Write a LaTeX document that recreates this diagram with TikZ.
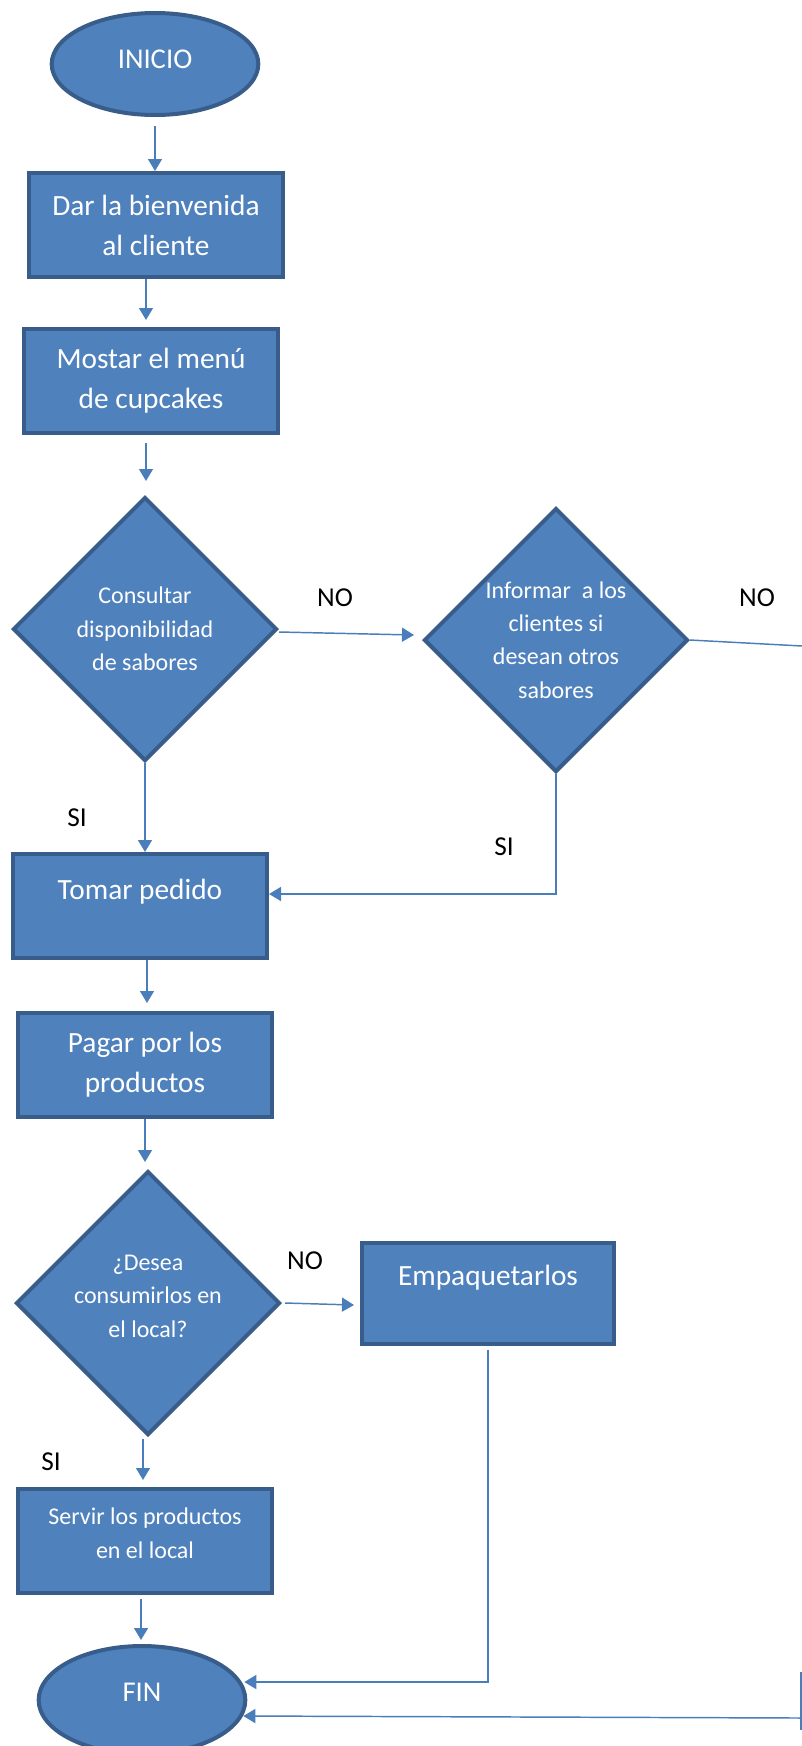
\documentclass[tikz,border=0pt]{standalone}
\usepackage{fontspec}
\setmainfont{Carlito}
\usepackage{xcolor}
\definecolor{boxfill}{HTML}{4F81BD}
\definecolor{boxline}{HTML}{385D8A}
\definecolor{flowline}{HTML}{4A7EBB}
\usepackage{tikz}
\usetikzlibrary{arrows.meta,shapes.geometric,calc}

\begin{document}
\begin{tikzpicture}[x=0.75pt,y=-0.75pt,>={Triangle[length=9pt,width=10.5pt]},
    base/.style={fill=boxfill,draw=boxline,line width=3pt,text=white,inner sep=0pt,
                 font=\fontsize{22}{30}\selectfont,align=center},
    proc/.style={base,rectangle,minimum width=190.5pt,minimum height=78pt},
    term/.style={base,ellipse,minimum width=155pt,minimum height=76.5pt,
                 font=\fontsize{21.5}{30}\selectfont},
    decide/.style={base,diamond,minimum width=198pt,minimum height=198pt,
                   font=\fontsize{18}{25}\selectfont},
    flow/.style={->,flowline,line width=1.1pt},
    tag/.style={font=\fontsize{20.5}{24}\selectfont,text=black}]
    \useasboundingbox (0,0) rectangle (802,1746);
    \node[term,text height=13.8pt,text depth=7.8pt] (inicio) at (155,64) {INICIO};
    \node[proc] (bienv) at (156,225) {Dar la bienvenida\\al cliente};
    \node[proc] (menu) at (151,381) {Mostar el menú\\de cupcakes};
    \node[decide] (consulta) at (145,629) {Consultar\\disponibilidad\\de sabores};
    \node[decide] (informar) at (556,640) {Informar~ a los\\clientes si\\desean otros\\sabores};
    \node[proc,text height=15pt,text depth=25pt] (tomar) at (140,906) {Tomar pedido};
    \node[proc] (pagar) at (145,1065) {Pagar por los\\productos};
    \node[decide,text depth=10.5pt] (desea) at (148,1303) {¿Desea\\consumirlos en\\el local?};
    \node[proc,minimum width=189pt,minimum height=75.75pt,text height=15pt,text depth=26.5pt]
      (empaq) at (488,1293) {Empaquetarlos};
    \node[proc,font=\fontsize{18}{25}\selectfont,text depth=12pt] (servir) at (145,1541)
      {Servir los productos\\en el local};
    \node[term,minimum height=81pt,text height=13.8pt,text depth=11pt] (fin) at (142,1700) {FIN};
    \node[tag] (noA) at (335,598) {NO};
    \node[tag] (noB) at (757,598) {NO};
    \node[tag] (siA) at (77,818) {SI};
    \node[tag] (siB) at (504,847) {SI};
    \node[tag] (noC) at (305,1261) {NO};
    \node[tag] (siC) at (51,1462) {SI};
    \coordinate (offR) at (802,646);
    \coordinate (offT) at (801,1672);
    \coordinate (offB) at (801,1730);
    \coordinate (offF) at (800,1718);
    \draw[flow,shorten <=7pt] (inicio.south) -- (inicio.south |- bienv.north);
    \draw[flow] ($(bienv.south)+(-10,0)$) -- ($(menu.north)+(-5,-7)$);
    \draw[flow] ($(menu.south)+(-5,8)$) -- ($(consulta.north)+(1,-14)$);
    \draw[flow] ($(consulta.east)+(0,3)$) -- ($(informar.west)+(-8,-5)$);
    \draw[flow] (consulta.south) -- (consulta.south |- tomar.north);
    \draw[flow] (informar.south) |- ($(tomar.east)+(0,-12)$);
    \draw[flowline,line width=1.1pt] (informar.east) -- (offR);
    \draw[flow] ($(tomar.south)+(7,0)$) -- ($(pagar.north)+(2,-8)$);
    \draw[flow] (pagar.south) -- ($(desea.north)+(-3,-7)$);
    \draw[flow] ($(desea.east)+(3,0)$) -- ($(empaq.west)+(-6,12)$);
    \draw[flow] ($(desea.south)+(-5,2)$) -- ($(servir.north)+(-2,-7)$);
    \draw[flow] ($(empaq.south)+(0,4)$) |- ($(fin.east)+(-3,-18)$);
    \draw[flow] ($(servir.south)+(-4,4)$) -- ($(fin.north)+(-1,-4)$);
    \draw[flowline,line width=1.1pt] (offT) -- (offB);
    \draw[flow] (offF) -- ($(fin.east)+(-4,16)$);
\end{tikzpicture}
\end{document}
